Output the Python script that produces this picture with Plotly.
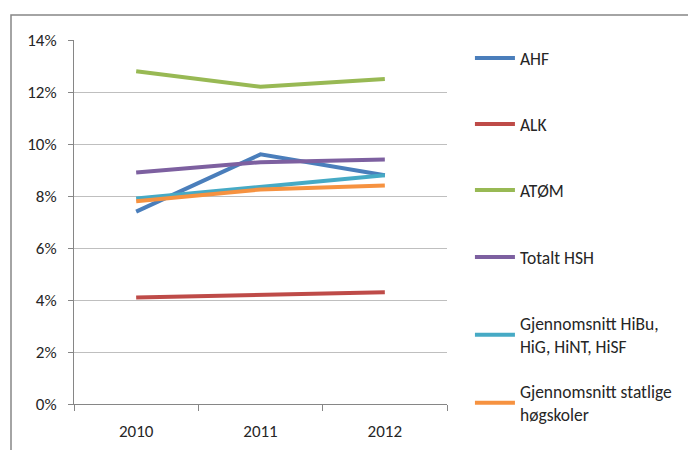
import plotly.graph_objects as go

# ---------------------------------------------------------------------------
# Data (percent)
# ---------------------------------------------------------------------------
years = ["2010", "2011", "2012"]
ahf = [7.4, 9.6, 8.8]
alk = [4.1, 4.2, 4.3]
atom = [12.8, 12.2, 12.5]
totalt_hsh = [8.9, 9.3, 9.4]
snitt_hibu = [7.9, 8.35, 8.8]
snitt_statlige = [7.8, 8.25, 8.4]

series = [
    ("AHF", ahf, "#4A7EBB"),
    ("ALK", alk, "#BE4B48"),
    ("ATØM", atom, "#98B954"),
    ("Totalt HSH", totalt_hsh, "#7D60A0"),
    ("Gjennomsnitt HiBu,<br>HiG, HiNT, HiSF", snitt_hibu, "#46AAC5"),
    ("Gjennomsnitt statlige<br>høgskoler", snitt_statlige, "#F69240"),
]

# screen y (px) of the centre of each legend entry, one legend per entry
legend_centres = [58, 124, 190, 257, 335, 403]

FAMILY = "Carlito, Lato, sans-serif"
TEXT = "#262626"
AXIS = "#868686"

# the page body adds an 8px margin, so the figure is drawn 8px smaller
PLOT_L, PLOT_T, PLOT_W, PLOT_H = 74, 40, 373, 364
OFF = 8

fig = go.Figure()
legends = {}
for i, (name, values, color) in enumerate(series):
    key = "legend" if i == 0 else f"legend{i + 1}"
    fig.add_trace(
        go.Scatter(
            x=years,
            y=values,
            name=name,
            mode="lines",
            legend=key,
            line=dict(color=color, width=4),
        )
    )
    legends[key] = dict(
        x=1.0615,
        y=(PLOT_T + PLOT_H - legend_centres[i]) / PLOT_H,
        xanchor="left",
        yanchor="middle",
        itemwidth=40,
        bgcolor="rgba(0,0,0,0)",
        font=dict(family=FAMILY, size=17.5, color=TEXT),
    )

fig.update_layout(
    width=696 - OFF,
    height=450 - OFF,
    paper_bgcolor="white",
    plot_bgcolor="white",
    font=dict(family=FAMILY, size=17, color=TEXT),
    margin=dict(
        l=PLOT_L - OFF,
        r=696 - PLOT_L - PLOT_W,
        t=PLOT_T - OFF,
        b=450 - PLOT_T - PLOT_H,
        autoexpand=False,
    ),
    showlegend=True,
    **legends,
    xaxis=dict(
        type="category",
        tickson="boundaries",
        ticks="outside",
        ticklen=6,
        tickcolor=AXIS,
        showline=True,
        linecolor=AXIS,
        showgrid=False,
        range=[-0.5, 2.5],
        ticklabelstandoff=12,
        fixedrange=True,
    ),
    yaxis=dict(
        range=[0, 14],
        dtick=2,
        ticksuffix="%",
        ticks="outside",
        ticklen=5,
        tickcolor=AXIS,
        showline=True,
        linecolor=AXIS,
        showgrid=True,
        gridcolor="#BFBFBF",
        gridwidth=1,
        zeroline=False,
        ticklabelstandoff=8,
        fixedrange=True,
    ),
    shapes=[
        dict(
            type="rect",
            xref="paper",
            yref="paper",
            x0=(11 - PLOT_L) / PLOT_W,
            x1=(720 - PLOT_L) / PLOT_W,
            y0=(PLOT_T + PLOT_H - 480) / PLOT_H,
            y1=1 + (PLOT_T - 15) / PLOT_H,
            line=dict(color=AXIS, width=1.5),
            layer="below",
        )
    ],
)

fig.write_html("out.html")
